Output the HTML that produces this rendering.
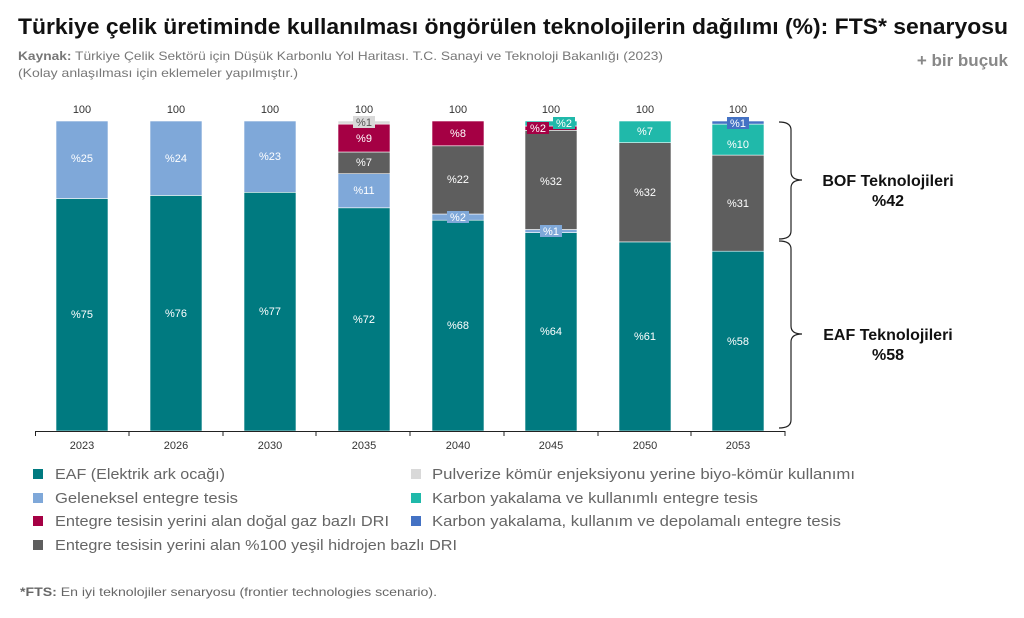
<!DOCTYPE html>
<html><head><meta charset="utf-8"><style>
body{margin:0;background:#fff;width:1024px;height:613px;overflow:hidden;font-family:"Liberation Sans",sans-serif}
</style></head><body>
<svg width="1024" height="613" viewBox="0 0 1024 613" xmlns="http://www.w3.org/2000/svg" font-family="Liberation Sans, sans-serif">
<text x="18" y="34" font-size="22" font-weight="bold" fill="#111" textLength="990" lengthAdjust="spacingAndGlyphs">Türkiye çelik üretiminde kullanılması öngörülen teknolojilerin dağılımı (%): FTS* senaryosu</text>
<text x="18" y="60" font-size="12" fill="#777" textLength="645" lengthAdjust="spacingAndGlyphs"><tspan font-weight="bold">Kaynak:</tspan> Türkiye Çelik Sektörü için Düşük Karbonlu Yol Haritası. T.C. Sanayi ve Teknoloji Bakanlığı (2023)</text>
<text x="18" y="77" font-size="12" fill="#777" textLength="280" lengthAdjust="spacingAndGlyphs">(Kolay anlaşılması için eklemeler yapılmıştır.)</text>
<text x="1008" y="66" font-size="17" font-weight="bold" fill="#888" text-anchor="end">+ bir buçuk</text>

<g stroke="#fff" stroke-width="0.6">
<rect x="56" y="198.5" width="52" height="232.5" fill="#007A80"/><rect x="56" y="121" width="52" height="77.5" fill="#7FA8D9"/>
<rect x="150" y="195.4" width="52" height="235.6" fill="#007A80"/><rect x="150" y="121" width="52" height="74.4" fill="#7FA8D9"/>
<rect x="244" y="192.3" width="52" height="238.7" fill="#007A80"/><rect x="244" y="121" width="52" height="71.3" fill="#7FA8D9"/>
<rect x="338" y="207.8" width="52" height="223.2" fill="#007A80"/><rect x="338" y="173.7" width="52" height="34.1" fill="#7FA8D9"/>
<rect x="338" y="152" width="52" height="21.7" fill="#5E5E5E"/><rect x="338" y="124.1" width="52" height="27.9" fill="#A50044"/>
<rect x="338" y="121" width="52" height="3.1" fill="#D9D9D9"/>
<rect x="432" y="220.2" width="52" height="210.8" fill="#007A80"/><rect x="432" y="214" width="52" height="6.2" fill="#7FA8D9"/>
<rect x="432" y="145.8" width="52" height="68.2" fill="#5E5E5E"/><rect x="432" y="121" width="52" height="24.8" fill="#A50044"/>
<rect x="525" y="232.6" width="52" height="198.4" fill="#007A80"/><rect x="525" y="229.5" width="52" height="3.1" fill="#7FA8D9"/>
<rect x="525" y="130.3" width="52" height="99.2" fill="#5E5E5E"/><rect x="525" y="126" width="52" height="4.3" fill="#A50044"/>
<rect x="525" y="121" width="52" height="5" fill="#20B9AA"/>
<rect x="619" y="241.9" width="52" height="189.1" fill="#007A80"/><rect x="619" y="142.7" width="52" height="99.2" fill="#5E5E5E"/>
<rect x="619" y="121" width="52" height="21.7" fill="#20B9AA"/>
<rect x="712" y="251.2" width="52" height="179.8" fill="#007A80"/><rect x="712" y="155.1" width="52" height="96.1" fill="#5E5E5E"/>
<rect x="712" y="124.1" width="52" height="31" fill="#20B9AA"/><rect x="712" y="121" width="52" height="3.1" fill="#4472C4"/>
</g>

<rect x="353" y="116" width="22" height="12" fill="#D9D9D9"/>
<rect x="447" y="211" width="22" height="12" fill="#7FA8D9"/>
<rect x="540" y="225" width="22" height="12" fill="#7FA8D9"/>
<rect x="527" y="122" width="22" height="12" fill="#A50044"/>
<rect x="553" y="117" width="22" height="12" fill="#20B9AA"/>
<rect x="727" y="117" width="22" height="12" fill="#4472C4"/>

<g font-size="11" fill="#fff" text-anchor="middle">
<text x="82" y="162">%25</text><text x="82" y="318">%75</text>
<text x="176" y="162">%24</text><text x="176" y="317">%76</text>
<text x="270" y="160">%23</text><text x="270" y="315">%77</text>
<text x="364" y="126" fill="#555">%1</text><text x="364" y="142">%9</text><text x="364" y="166">%7</text><text x="364" y="194">%11</text><text x="364" y="323">%72</text>
<text x="458" y="137">%8</text><text x="458" y="183">%22</text><text x="458" y="221">%2</text><text x="458" y="329">%68</text>
<text x="538" y="132">%2</text><text x="564" y="127">%2</text><text x="551" y="185">%32</text><text x="551" y="235">%1</text><text x="551" y="335">%64</text>
<text x="645" y="135">%7</text><text x="645" y="196">%32</text><text x="645" y="340">%61</text>
<text x="738" y="127">%1</text><text x="738" y="148">%10</text><text x="738" y="207">%31</text><text x="738" y="345">%58</text>
</g>
<g font-size="11" fill="#333" text-anchor="middle">
<text x="82" y="113">100</text><text x="176" y="113">100</text><text x="270" y="113">100</text><text x="364" y="113">100</text>
<text x="458" y="113">100</text><text x="551" y="113">100</text><text x="645" y="113">100</text><text x="738" y="113">100</text>
</g>

<g stroke="#222" stroke-width="1">
<line x1="35" y1="431.5" x2="785" y2="431.5"/>
<line x1="35.5" y1="431" x2="35.5" y2="436"/><line x1="129" y1="431" x2="129" y2="436"/><line x1="223" y1="431" x2="223" y2="436"/>
<line x1="316" y1="431" x2="316" y2="436"/><line x1="410" y1="431" x2="410" y2="436"/><line x1="504" y1="431" x2="504" y2="436"/>
<line x1="598" y1="431" x2="598" y2="436"/><line x1="691" y1="431" x2="691" y2="436"/><line x1="785" y1="431" x2="785" y2="436"/>
</g>
<g font-size="11" fill="#333" text-anchor="middle">
<text x="82" y="449">2023</text><text x="176" y="449">2026</text><text x="270" y="449">2030</text><text x="364" y="449">2035</text>
<text x="458" y="449">2040</text><text x="551" y="449">2045</text><text x="645" y="449">2050</text><text x="738" y="449">2053</text>
</g>

<g fill="none" stroke="#222" stroke-width="1.2">
<path d="M779 122 Q791 122 791 130 L791 172 Q791 180 802 180 Q791 180 791 188 L791 231 Q791 239 779 239"/>
<path d="M779 241 Q791 241 791 249 L791 326 Q791 334 802 334 Q791 334 791 342 L791 420 Q791 428 779 428"/>
</g>
<g font-size="16" font-weight="bold" fill="#111" text-anchor="middle">
<text x="888" y="186">BOF Teknolojileri</text><text x="888" y="206">%42</text>
<text x="888" y="340">EAF Teknolojileri</text><text x="888" y="360">%58</text>
</g>

<g font-size="15" fill="#666" lengthAdjust="spacingAndGlyphs">
<rect x="33" y="469" width="10" height="10" fill="#007A80"/><text x="55" y="479" textLength="170" lengthAdjust="spacingAndGlyphs">EAF (Elektrik ark ocağı)</text>
<rect x="33" y="493" width="10" height="10" fill="#7FA8D9"/><text x="55" y="503" textLength="183" lengthAdjust="spacingAndGlyphs">Geleneksel entegre tesis</text>
<rect x="33" y="516" width="10" height="10" fill="#A50044"/><text x="55" y="526" textLength="334" lengthAdjust="spacingAndGlyphs">Entegre tesisin yerini alan doğal gaz bazlı DRI</text>
<rect x="33" y="540" width="10" height="10" fill="#5E5E5E"/><text x="55" y="550" textLength="402" lengthAdjust="spacingAndGlyphs">Entegre tesisin yerini alan %100 yeşil hidrojen bazlı DRI</text>
<rect x="411" y="469" width="10" height="10" fill="#D9D9D9"/><text x="432" y="479" textLength="423" lengthAdjust="spacingAndGlyphs">Pulverize kömür enjeksiyonu yerine biyo-kömür kullanımı</text>
<rect x="411" y="493" width="10" height="10" fill="#20B9AA"/><text x="432" y="503" textLength="326" lengthAdjust="spacingAndGlyphs">Karbon yakalama ve kullanımlı entegre tesis</text>
<rect x="411" y="516" width="10" height="10" fill="#4472C4"/><text x="432" y="526" textLength="409" lengthAdjust="spacingAndGlyphs">Karbon yakalama, kullanım ve depolamalı entegre tesis</text>
</g>
<text x="20" y="596" font-size="12" fill="#666" textLength="417" lengthAdjust="spacingAndGlyphs"><tspan font-weight="bold">*FTS:</tspan> En iyi teknolojiler senaryosu (frontier technologies scenario).</text>
</svg>
</body></html>
